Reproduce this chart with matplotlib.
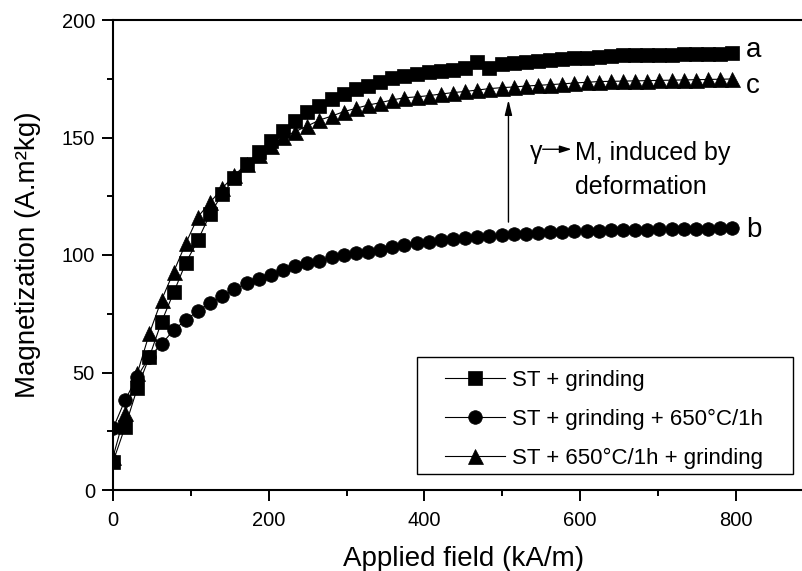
import matplotlib
matplotlib.use("Agg")
import matplotlib.pyplot as plt
from matplotlib.ticker import MultipleLocator
from matplotlib.patches import Rectangle

plt.rcParams['font.family'] = ['Liberation Sans', 'DejaVu Sans']

# Applied field (kA/m)
field = [0.0, 15.6, 31.2, 46.8, 62.4, 78.0, 93.6, 109.2, 124.8, 140.4,
         156.0, 171.6, 187.2, 202.8, 218.4, 234.0, 249.6, 265.2, 280.8, 296.4,
         312.0, 327.6, 343.2, 358.8, 374.4, 390.0, 405.6, 421.2, 436.8, 452.4,
         468.0, 483.6, 499.2, 514.8, 530.4, 546.0, 561.6, 577.2, 592.8, 608.4,
         624.0, 639.6, 655.2, 670.8, 686.4, 702.0, 717.6, 733.2, 748.8, 764.4,
         780.0, 795.6]

# a: ST + grinding
mag_a = [12.0, 26.9, 43.3, 56.7, 71.6, 84.1, 96.7, 106.4, 117.4, 126.0,
         132.6, 138.7, 143.7, 148.6, 152.9, 157.1, 160.7, 163.5, 166.4, 168.5,
         170.5, 172.1, 173.7, 175.2, 176.3, 177.0, 177.7, 178.3, 178.9, 179.7,
         182.2, 179.6, 181.1, 181.7, 182.3, 182.7, 183.0, 183.4, 183.7, 184.0,
         184.4, 184.8, 184.9, 185.0, 185.1, 185.2, 185.3, 185.4, 185.5, 185.6,
         185.7, 185.8]

# b: ST + grinding + 650C/1h
mag_b = [26.2, 38.3, 48.2, 56.7, 62.1, 68.1, 72.3, 76.3, 79.7, 82.6,
         85.4, 87.9, 89.6, 91.6, 93.6, 95.3, 96.5, 97.6, 99.0, 100.0,
         100.7, 101.4, 102.1, 103.3, 104.2, 105.1, 105.7, 106.2, 106.8, 107.2,
         107.7, 108.1, 108.4, 108.8, 109.1, 109.4, 109.6, 109.8, 110.1, 110.2,
         110.3, 110.5, 110.6, 110.7, 110.8, 110.9, 111.0, 111.1, 111.2, 111.2,
         111.3, 111.3]

# c: ST + 650C/1h + grinding
mag_c = [14.0, 32.6, 49.6, 66.7, 80.9, 92.9, 105.0, 116.3, 122.4, 128.4,
         134.0, 138.7, 142.6, 146.4, 150.1, 152.5, 154.9, 157.4, 159.1, 161.0,
         162.4, 163.8, 164.8, 166.0, 166.9, 167.3, 167.8, 168.5, 169.1, 169.6,
         170.2, 170.8, 171.2, 171.5, 171.9, 172.2, 172.5, 172.8, 173.2, 173.5,
         173.8, 173.9, 174.0, 174.1, 174.2, 174.3, 174.4, 174.5, 174.6, 174.7,
         174.8, 174.9]

labels = ['ST + grinding', 'ST + grinding + 650°C/1h', 'ST + 650°C/1h + grinding']
curve_tags = ['a', 'b', 'c']
x_ticks = [0, 200, 400, 600, 800]
y_ticks = [0, 50, 100, 150, 200]

W, H = 803, 571
fig = plt.figure(figsize=(W / 100, H / 100), dpi=100)
ax = fig.add_axes([113 / W, 1 - 490 / H, 700.6 / W, 470 / H])

ax.plot(field, mag_a, '-', color='black', lw=0.8, marker='s', ms=9.8,
        mfc='black', mec='black', mew=0.5, label=labels[0])
ax.plot(field, mag_b, '-', color='black', lw=0.8, marker='o', ms=9.8,
        mfc='black', mec='black', mew=0.5, label=labels[1])
ax.plot(field, mag_c, '-', color='black', lw=0.8, marker='^', ms=10.8,
        mfc='black', mec='black', mew=0.5, label=labels[2])

ax.set_xlim(0, 900)
ax.set_ylim(0, 200)
ax.set_xticks(x_ticks)
ax.set_yticks(y_ticks)
ax.xaxis.set_minor_locator(MultipleLocator(100))
ax.yaxis.set_minor_locator(MultipleLocator(25))
ax.tick_params(which='major', direction='out', length=8, width=1.4,
               labelsize=14.5, top=False, right=False)
ax.tick_params(axis='x', which='major', pad=7)
ax.tick_params(axis='y', which='major', pad=5)
ax.tick_params(which='minor', direction='out', length=4.5, width=1.4,
               top=False, right=False)
for s in ['left', 'bottom', 'top']:
    ax.spines[s].set_linewidth(1.5)
ax.spines['right'].set_visible(False)

ax.set_xlabel('Applied field (kA/m)', fontsize=20, labelpad=12)
ax.set_ylabel('Magnetization (A.m²kg)', fontsize=20, labelpad=15)

# curve tags
ax.text(813, 187.2, curve_tags[0], fontsize=20, ha='left', va='center', clip_on=False)
ax.text(813, 110.6, curve_tags[1], fontsize=20, ha='left', va='center', clip_on=False)
ax.text(813, 172.0, curve_tags[2], fontsize=20, ha='left', va='center', clip_on=False)

# vertical arrow b -> c
ax.annotate('', xy=(508, 166), xytext=(508, 114),
            arrowprops=dict(arrowstyle='-|>,head_length=0.9,head_width=0.22',
                            color='black', lw=1.0, shrinkA=0, shrinkB=0))
ax.text(535.5, 144.0, 'γ', fontsize=18, ha='left', va='center')
ax.annotate('', xy=(589, 145), xytext=(552, 145),
            arrowprops=dict(arrowstyle='-|>,head_length=0.7,head_width=0.22',
                            color='black', lw=1.0, shrinkA=0, shrinkB=0))
ax.text(593.5, 143.6, 'M, induced by', fontsize=18, ha='left', va='center')
ax.text(593.5, 129.1, 'deformation', fontsize=18, ha='left', va='center')

# legend frame drawn as a fixed box
frame = Rectangle((416.7 / W, 1 - 474 / H), (793 - 416.7) / W,
                  (474 - 357.3) / H, transform=fig.transFigure,
                  fill=True, facecolor='white', edgecolor='black',
                  lw=1.0, zorder=5, clip_on=False)
ax.add_patch(frame)
leg = ax.legend(loc='upper left', bbox_to_anchor=(445 / W, 1 - 370 / H),
                bbox_transform=fig.transFigure, fontsize=16, frameon=False,
                borderaxespad=0, handlelength=2.7, handletextpad=0.3,
                labelspacing=0.8, borderpad=0)
leg.set_zorder(6)

fig.savefig('out.png', dpi=100)
